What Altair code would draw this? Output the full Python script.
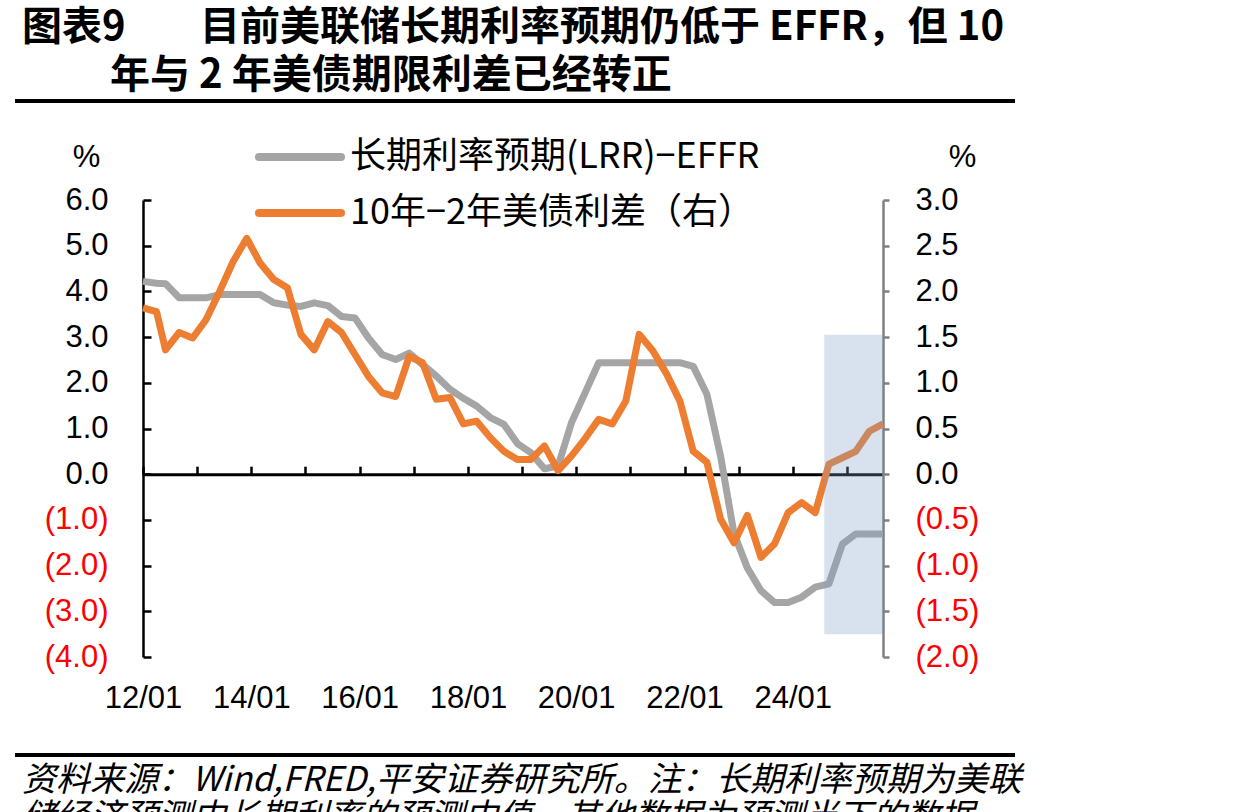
import altair as alt
import pandas as pd

# ---------------- data ----------------
dates = ["2012/01/01", "2012/04/01", "2012/06/01", "2012/09/01", "2012/12/01"]
for _y in range(2013, 2025):
    for _m in ("03", "06", "09", "12"):
        dates.append(f"{_y}/{_m}/01")
dates += ["2025/03/01", "2025/06/01", "2025/09/01"]

lrr_minus_effr = [4.22, 4.18, 4.17, 3.86, 3.86, 3.86, 3.93, 3.93, 3.93, 3.93,
                  3.75, 3.70, 3.67, 3.75, 3.69, 3.45, 3.42, 2.98, 2.62, 2.51,
                  2.65, 2.40, 2.15, 1.86, 1.66, 1.49, 1.24, 1.09, 0.67, 0.47,
                  0.12, 0.18, 1.13, 1.78, 2.44, 2.44, 2.44, 2.44, 2.44, 2.44,
                  2.44, 2.36, 1.75, 0.40, -1.30, -2.05, -2.55, -2.81, -2.81, -2.69,
                  -2.47, -2.40, -1.53, -1.31, -1.31, -1.31]

spread_10y_2y = [1.82, 1.78, 1.36, 1.55, 1.49, 1.69, 2.00, 2.33, 2.58, 2.31,
                 2.13, 2.04, 1.53, 1.36, 1.67, 1.55, 1.31, 1.07, 0.89, 0.85,
                 1.29, 1.22, 0.82, 0.84, 0.55, 0.58, 0.40, 0.25, 0.16, 0.16,
                 0.31, 0.04, 0.20, 0.39, 0.60, 0.55, 0.80, 1.53, 1.35, 1.10,
                 0.80, 0.25, 0.13, -0.49, -0.75, -0.45, -0.91, -0.76, -0.42, -0.31,
                 -0.42, 0.11, 0.18, 0.25, 0.47, 0.55]

series_names = ["长期利率预期(LRR)−EFFR", "10年−2年美债利差（右）"]
series_colors = ["#A5A5A5", "#ED7D31"]

shade_start = ["2024/08/01"]
shade_end = ["2025/09/01"]
shade_top = [3.05]
shade_bottom = [-3.5]

left_ticks = [-4, -3, -2, -1, 0, 1, 2, 3, 4, 5, 6]
right_ticks = [-2.0, -1.5, -1.0, -0.5, 0.0, 0.5, 1.0, 1.5, 2.0, 2.5, 3.0]
x_label_years = [2012, 2014, 2016, 2018, 2020, 2022, 2024]
x_tick_years = list(range(2012, 2026))

title_l1a = "图表9"
title_l1b = "目前美联储长期利率预期仍低于 EFFR，但 10"
title_l2 = "年与 2 年美债期限利差已经转正"
foot_l1 = "资料来源：Wind,FRED,平安证券研究所。注：长期利率预期为美联"
foot_l2 = "储经济预测中长期利率的预测中值，其他数据为预测当下的数据。"

# ---------------- layout constants ----------------
W, H = 740, 457
NUM = "Liberation Sans"
CJK = "Noto Sans CJK SC"

df_gray = pd.DataFrame({"date": dates, "value": lrr_minus_effr, "series": series_names[0]})
df_orange = pd.DataFrame({"date": dates, "value": spread_10y_2y, "series": series_names[1]})
df_shade = pd.DataFrame({"start": shade_start, "end": shade_end, "top": shade_top, "bottom": shade_bottom})
df_legend = pd.DataFrame({"series": series_names})

x_dom = alt.Scale(domain=[alt.DateTime(year=2012, month=1, date=1),
                          alt.DateTime(year=2025, month=9, date=1)])
color_scale = alt.Scale(domain=series_names, range=series_colors)

label_expr = "datum.value < 0 ? '(' + format(-datum.value, '.1f') + ')' : format(datum.value, '.1f')"
label_color = {"condition": {"test": "datum.value < 0", "value": "#FF0000"}, "value": "#000000"}

gray = alt.Chart(df_gray).mark_line(strokeWidth=7, strokeJoin="round").encode(
    x=alt.X("date:T", scale=x_dom,
            axis=alt.Axis(orient="bottom", values=[alt.DateTime(year=y, month=1, date=1) for y in x_label_years],
                          format="%y/%m", labelFont=NUM, labelFontSize=31, labelColor="#000000",
                          labelPadding=26, ticks=False, domain=False, grid=False, title=None,
                          labelFlush=False)),
    y=alt.Y("value:Q", scale=alt.Scale(domain=[-4, 6], nice=False, zero=False),
            axis=alt.Axis(orient="left", values=left_ticks, labelExpr=label_expr, labelColor=label_color,
                          labelFont=NUM, labelFontSize=31, labelPadding=35, ticks=False,
                          domainColor="#000000", domainWidth=2.5, grid=False,
                          title="%", titleAngle=0, titleX=-57, titleY=-43, titleFont=NUM,
                          titleFontSize=31, titleFontWeight="normal", titleAlign="center",
                          titleBaseline="middle", titleColor="#000000")),
    color=alt.Color("series:N", scale=color_scale, legend=None),
)

orange = alt.Chart(df_orange).mark_line(strokeWidth=7, strokeJoin="round").encode(
    x=alt.X("date:T", scale=x_dom, axis=None),
    y=alt.Y("value:Q", scale=alt.Scale(domain=[-2, 3], nice=False, zero=False),
            axis=alt.Axis(orient="right", values=right_ticks, labelExpr=label_expr, labelColor=label_color,
                          labelFont=NUM, labelFontSize=31, labelPadding=26, tickSize=6, tickWidth=2.5,
                          tickColor="#808080", domainColor="#808080", domainWidth=2.5, grid=False,
                          title="%", titleAngle=0, titleX=79, titleY=-43, titleFont=NUM,
                          titleFontSize=31, titleFontWeight="normal", titleAlign="center",
                          titleBaseline="middle", titleColor="#000000")),
    color=alt.Color("series:N", scale=color_scale, legend=None),
)

shade = alt.Chart(df_shade).mark_rect(color="#7FA0C8", opacity=0.3).encode(
    x=alt.X("start:T", scale=x_dom,
            axis=alt.Axis(orient="top", offset=-H * 0.6, labels=False,
                          values=[alt.DateTime(year=y, month=1, date=1) for y in x_tick_years],
                          tickSize=8, tickWidth=2.5, tickColor="#000000", domainColor="#000000",
                          domainWidth=3, grid=False, title=None)),
    x2="end:T",
    y=alt.Y("top:Q", scale=alt.Scale(domain=[-4, 6], nice=False, zero=False),
            axis=alt.Axis(orient="right", offset=-W, labels=False, values=left_ticks, tickSize=8,
                          tickWidth=2.5, tickColor="#000000", domain=False, grid=False, title=None)),
    y2="bottom:Q",
)

leg_y = alt.Y("series:N", scale=alt.Scale(type="point", domain=series_names, range=[-43, 13], padding=0),
              axis=None)
legend_lines = alt.Chart(df_legend).mark_rule(strokeWidth=8, strokeCap="round").encode(
    y=leg_y, x=alt.value(116), x2=alt.value(198),
    color=alt.Color("series:N", scale=color_scale, legend=None),
)
legend_text = alt.Chart(df_legend).mark_text(align="left", baseline="middle", font=CJK, fontSize=36,
                                             color="#000000").encode(
    y=leg_y, x=alt.value(207), text="series:N",
)


def txt(s, x, y, size, weight="normal", style="normal", baseline="middle"):
    return alt.Chart(pd.DataFrame({"t": [s]})).mark_text(
        align="left", baseline=baseline, font=CJK, fontSize=size, fontWeight=weight,
        fontStyle=style, color="#000000").encode(text="t:N", x=alt.value(x), y=alt.value(y))


def hrule(x1, x2, y, w):
    return alt.Chart(pd.DataFrame({"a": [0]})).mark_rule(color="#000000", strokeWidth=w).encode(
        x=alt.value(x1), x2=alt.value(x2), y=alt.value(y))


t1 = txt(title_l1a, 22 - 143, 28 - 200, 40, weight="bold")
t2 = txt(title_l1b, 200 - 143, 28 - 200, 40, weight="bold")
t3 = txt(title_l2, 110 - 143, 76 - 200, 40, weight="bold")
r1 = hrule(15 - 143, 1015 - 143, 101 - 200, 4)
r2 = hrule(15 - 143, 1015 - 143, 755 - 200, 4)
f1 = txt(foot_l1, 22 - 143, 781 - 200, 34, style="italic")
f2 = txt(foot_l2, 22 - 143, 801 - 200, 34, style="italic", baseline="top")

chart = alt.layer(
    gray, orange, shade, legend_lines, legend_text, t1, t2, t3, r1, r2, f1, f2
).resolve_scale(
    y="independent"
).resolve_axis(
    x="independent", y="independent"
).properties(
    width=W, height=H,
    autosize=alt.AutoSizeParams(type="none"),
    padding={"left": 143, "top": 200, "right": 1245 - 143 - W, "bottom": 812 - 200 - H},
    background="#FFFFFF",
).configure_view(stroke=None)

chart.save("out.html", embed_options={"renderer": "svg", "actions": False})
